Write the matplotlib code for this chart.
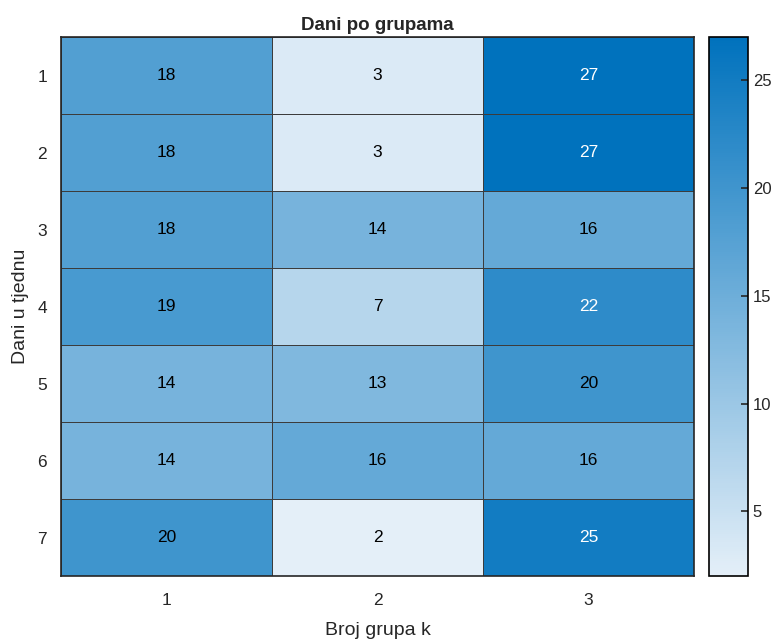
import matplotlib.pyplot as plt
import numpy as np
from matplotlib.colors import LinearSegmentedColormap

plt.rcParams['font.family'] = ['Liberation Sans', 'DejaVu Sans']

groups = ['1', '2', '3']
days = ['1', '2', '3', '4', '5', '6', '7']
counts = np.array([
    [18, 3, 27],
    [18, 3, 27],
    [18, 14, 16],
    [19, 7, 22],
    [14, 13, 20],
    [14, 16, 16],
    [20, 2, 25],
])

cmap = LinearSegmentedColormap.from_list('mblue', [(0.894, 0.937, 0.973), (0.0, 0.447, 0.741)])

fig = plt.figure(figsize=(7.73, 6.4), dpi=100)
ax = fig.add_axes([0.0789, 0.1, 0.819, 0.842])
cax = fig.add_axes([0.917, 0.1, 0.0505, 0.842])

vmin, vmax = counts.min(), counts.max()
mesh = ax.pcolormesh(counts, cmap=cmap, vmin=vmin, vmax=vmax, edgecolor='#3c3c3c', linewidth=0.6)
ax.set_xlim(0, 3)
ax.set_ylim(7, 0)
ax.set_xticks(np.arange(3) + 0.5, groups)
ax.set_yticks(np.arange(7) + 0.5, days)
ax.tick_params(length=0, labelsize=12.5, colors='#262626')
ax.tick_params(axis='x', pad=12)
ax.tick_params(axis='y', pad=10)
for s in ax.spines.values():
    s.set_color('#262626')
    s.set_linewidth(1.2)

for i in range(counts.shape[0]):
    for j in range(counts.shape[1]):
        v = counts[i, j]
        ax.text(j + 0.5, i + 0.5, str(v), ha='center', va='center', fontsize=12.5,
                color='white' if v > 20.5 else 'black')

ax.set_title('Dani po grupama', fontsize=13.5, fontweight='bold', color='#262626', pad=5)
ax.set_xlabel('Broj grupa k', fontsize=14, color='#262626', labelpad=10)
ax.set_ylabel('Dani u tjednu', fontsize=14, color='#262626', labelpad=6)

cb = fig.colorbar(mesh, cax=cax)
cb.set_ticks([5, 10, 15, 20, 25])
cax.tick_params(direction='in', length=5, labelsize=12, colors='#262626', width=1.2)
cb.outline.set_edgecolor('#000000')
cb.outline.set_linewidth(1.2)

fig.savefig('out.png', dpi=100)
